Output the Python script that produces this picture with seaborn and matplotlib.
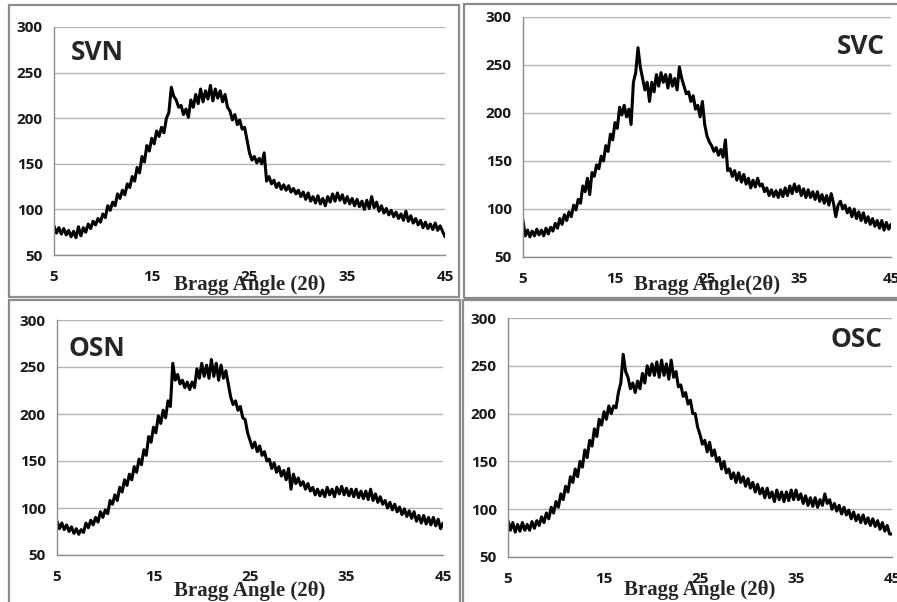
import numpy as np
import pandas as pd
import matplotlib
matplotlib.use("Agg")
import matplotlib.pyplot as plt
from matplotlib.patches import Rectangle
import seaborn as sns

# Bragg angle grid (2theta, degrees), 0.25 deg steps from 5 to 45
two_theta = [5 + 0.25 * i for i in range(161)]

svn = [82, 74, 80, 73, 79, 72, 77, 70, 76, 69, 81, 71, 80, 75, 84, 79,
       87, 83, 90, 86, 95, 91, 104, 99, 108, 104, 117, 112, 121, 116, 128, 124,
       136, 131, 146, 140, 158, 152, 170, 164, 178, 172, 186, 180, 190, 184, 200, 206,
       234, 224, 220, 212, 214, 204, 210, 201, 220, 212, 226, 216, 232, 218, 230, 221,
       236, 219, 232, 222, 230, 218, 226, 212, 208, 198, 204, 193, 198, 188, 190, 176,
       162, 154, 158, 151, 156, 150, 162, 131, 136, 128, 132, 124, 129, 122, 127, 121,
       126, 119, 123, 117, 121, 114, 119, 111, 118, 109, 114, 107, 115, 106, 112, 104,
       114, 108, 117, 109, 118, 110, 116, 107, 114, 106, 112, 104, 111, 103, 109, 100,
       110, 101, 114, 102, 108, 98, 104, 96, 101, 94, 99, 92, 97, 90, 95, 88,
       98, 87, 93, 85, 90, 83, 88, 80, 86, 79, 84, 78, 85, 77, 82, 76, 70]

svc = [88, 72, 78, 71, 77, 72, 79, 73, 78, 72, 80, 74, 81, 77, 85, 80,
       90, 84, 94, 88, 97, 92, 104, 99, 110, 106, 124, 118, 132, 115, 138, 134,
       146, 142, 155, 150, 166, 160, 178, 172, 190, 184, 206, 198, 208, 196, 204, 188,
       232, 242, 268, 248, 236, 224, 232, 212, 232, 222, 240, 228, 242, 232, 240, 226,
       240, 228, 236, 224, 248, 236, 228, 220, 222, 212, 218, 204, 208, 196, 212, 188,
       176, 170, 166, 160, 164, 156, 162, 154, 172, 140, 142, 134, 140, 130, 138, 128,
       136, 126, 132, 122, 130, 123, 132, 124, 126, 118, 122, 114, 120, 113, 119, 112,
       120, 113, 122, 114, 124, 116, 126, 118, 124, 114, 121, 112, 120, 112, 118, 110,
       118, 108, 115, 106, 114, 104, 116, 106, 92, 104, 108, 100, 104, 96, 101, 92,
       100, 90, 97, 88, 96, 86, 92, 84, 90, 82, 88, 80, 88, 78, 86, 79, 84]

osn = [86, 78, 84, 77, 82, 75, 80, 73, 78, 72, 77, 74, 84, 79, 87, 82,
       90, 85, 96, 90, 98, 94, 108, 104, 114, 108, 122, 117, 130, 124, 136, 130,
       144, 138, 152, 146, 162, 156, 176, 170, 186, 180, 198, 190, 204, 196, 214, 208,
       254, 236, 242, 232, 236, 228, 234, 226, 234, 228, 248, 238, 254, 240, 252, 238,
       258, 240, 254, 236, 252, 238, 246, 232, 218, 210, 214, 204, 208, 196, 194, 180,
       172, 164, 170, 160, 166, 156, 160, 150, 152, 142, 148, 138, 144, 134, 140, 130,
       142, 120, 136, 126, 132, 124, 128, 120, 126, 118, 122, 114, 120, 113, 119, 112,
       122, 114, 120, 112, 122, 115, 123, 114, 121, 113, 120, 112, 120, 111, 118, 110,
       118, 109, 120, 108, 115, 106, 112, 104, 108, 100, 106, 98, 104, 96, 101, 93,
       99, 91, 97, 89, 96, 86, 92, 84, 92, 83, 90, 82, 90, 81, 88, 78, 84]

osc = [88, 78, 86, 76, 84, 77, 86, 78, 84, 78, 87, 80, 88, 83, 92, 86,
       96, 90, 102, 96, 108, 102, 116, 110, 124, 118, 134, 128, 142, 134, 150, 144,
       162, 154, 172, 166, 184, 176, 194, 188, 202, 194, 208, 200, 208, 206, 222, 232,
       262, 244, 238, 226, 232, 222, 234, 226, 242, 232, 250, 240, 252, 240, 254, 238,
       256, 240, 252, 236, 256, 238, 244, 228, 230, 218, 222, 210, 214, 200, 200, 186,
       178, 168, 172, 160, 170, 156, 162, 150, 154, 142, 150, 138, 142, 132, 138, 128,
       138, 128, 134, 124, 132, 122, 128, 118, 126, 116, 122, 112, 122, 112, 118, 108,
       120, 110, 118, 108, 118, 109, 120, 110, 120, 110, 116, 106, 114, 104, 112, 103,
       112, 102, 110, 104, 116, 106, 110, 100, 106, 98, 104, 95, 102, 94, 99, 90,
       97, 88, 94, 86, 94, 85, 91, 83, 90, 82, 88, 79, 86, 77, 83, 74, 74]

sample_names = ["SVN", "SVC", "OSN", "OSC"]
xlabels = ["Bragg Angle (2θ)", "Bragg Angle(2θ)", "Bragg Angle (2θ)", "Bragg Angle (2θ)"]
x_ticks = [5, 15, 25, 35, 45]
y_ticks = [50, 100, 150, 200, 250, 300]

sns.set_style("white")
plt.rcParams['font.family'] = ['Open Sans', 'DejaVu Sans']

W, H = 897, 602
fig = plt.figure(figsize=(W / 100, H / 100), dpi=100)

def fx(px):
    return px / W

def fy(py):
    return 1 - py / H

# axes boxes in pixel coords: (left, right, top, bottom)
axes_px = [(54, 445, 27, 255), (523, 891, 17, 257), (57, 443, 320, 555), (508, 892, 318, 557)]
label_pos = [(0.043, 0.89, 'left'), (0.984, 0.879, 'right'), (0.0285, 0.877, 'left'), (0.974, 0.908, 'right')]
xlabel_off = [30, 28, 36, 33]
series = [svn, svc, osn, osc]

# outer panel frames (pixel coords)
frames = [(9, 5, 459, 297), (464, 4, 900, 298), (9, 300, 460, 605), (463, 300, 900, 605)]
for (x0, y0, x1, y1) in frames:
    fig.patches.append(Rectangle((fx(x0), fy(y1)), fx(x1) - fx(x0), fy(y0) - fy(y1),
                                 transform=fig.transFigure, fill=False,
                                 edgecolor='#8c8c8c', linewidth=1.6, zorder=0))

grid_c = '#b4b4b4'
for i, (l, r, t, b) in enumerate(axes_px):
    ax = fig.add_axes([fx(l), fy(b), fx(r) - fx(l), fy(t) - fy(b)])
    df = pd.DataFrame({"angle": two_theta, "intensity": series[i]})
    sns.lineplot(data=df, x="angle", y="intensity", ax=ax, color='black', linewidth=2.2)
    ax.set_xlim(5, 45)
    ax.set_ylim(50, 300)
    ax.set_xticks(x_ticks)
    ax.set_yticks(y_ticks)
    ax.grid(axis='y', color=grid_c, linewidth=1.0)
    ax.grid(axis='x', visible=False)
    ax.set_axisbelow(True)
    for s in ['top', 'right']:
        ax.spines[s].set_visible(False)
    for s in ['left', 'bottom']:
        ax.spines[s].set_color('#8c8c8c')
        ax.spines[s].set_linewidth(1.0)
    ax.tick_params(axis='both', which='major', direction='out', length=5, width=1.0,
                   color='#8c8c8c', labelsize=11, pad=3, labelcolor='#1a1a1a')
    ax.tick_params(axis='x', pad=6)
    for lab in ax.get_xticklabels() + ax.get_yticklabels():
        lab.set_fontweight('bold')
    ax.set_ylabel("")
    ax.set_xlabel("")
    cx = (l + r) / 2
    fig.text(fx(cx), fy(b + xlabel_off[i]), xlabels[i], ha='center', va='center',
             family=['Liberation Serif', 'DejaVu Serif'], fontweight='bold', fontsize=15)
    xp, yp, ha = label_pos[i]
    ax.text(xp, yp, sample_names[i], transform=ax.transAxes, ha=ha, va='center',
            fontsize=19, fontweight='bold', family=['Open Sans', 'DejaVu Sans'])

fig.savefig("out.png", dpi=100, facecolor='white')
